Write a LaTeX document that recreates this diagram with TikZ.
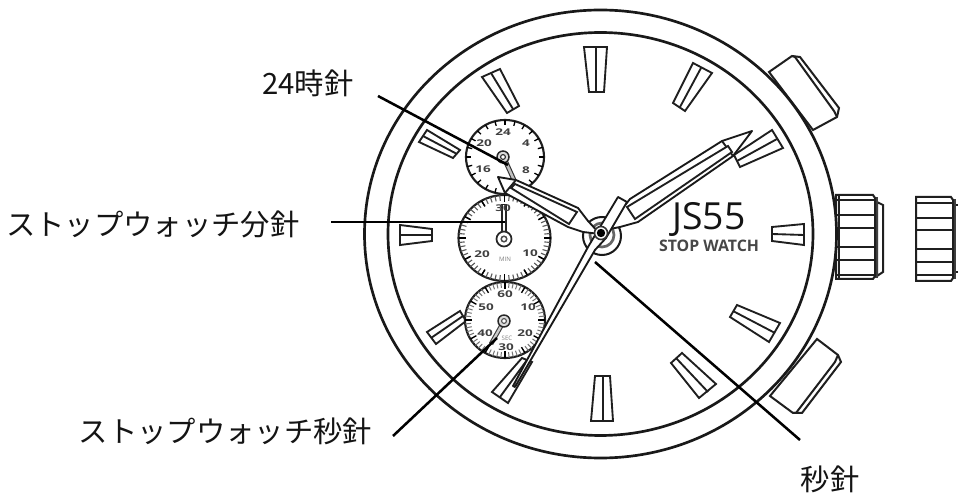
\documentclass[tikz,border=0pt]{standalone}
\usepackage{fontspec}
\setmainfont{Open Sans}
\newfontfamily\jpfont{Noto Sans CJK JP}
\newfontfamily\dialfont{Open Sans}
\newcommand{\dialticks}[7]{% cx cy rx ry count length width(px)
  \pgfmathsetmacro{\stepang}{360/#5}
  \foreach \k in {1,...,#5}{
    \pgfmathsetmacro{\ang}{\k*\stepang}
    \pgfmathsetmacro{\fr}{1-#6/#3}
    \draw[line width=#7*0.75pt]
      ({#1+#3*cos(\ang)},{#2+#4*sin(\ang)}) -- ({#1+#3*\fr*cos(\ang)},{#2+#4*\fr*sin(\ang)});
  }}
\newcommand{\hourmark}[6]{% a b c d m1 m2
  \draw[markline,fill=white] #1 -- #2 -- #3 -- #4 -- cycle;
  \draw[markline] #5 -- #6;}
\tikzset{
  x=0.75pt,y=-0.75pt,
  caseline/.style={line width=2pt,draw=black!90},
  markline/.style={line width=1.4pt,draw=black!88,line join=miter},
  crownline/.style={line width=1.5pt,draw=black!88},
  handline/.style={line width=1.4pt,draw=black!90,fill=white,line join=round},
  subring/.style={line width=1.6pt,draw=black!88},
  leader/.style={line width=1.9pt,draw=black},
  label/.style={font=\jpfont\fontsize{22pt}{24pt}\selectfont,inner sep=0pt,text=black!92},
  dialnum/.style={font=\dialfont\bfseries\fontsize{7pt}{8pt}\selectfont,inner sep=0pt,text=black!75,xscale=1.45},
  dialsmall/.style={font=\dialfont\fontsize{4.6pt}{5pt}\selectfont,inner sep=0pt,text=black!50},
}
\begin{document}
\begin{tikzpicture}
\useasboundingbox (0,0) rectangle (958,495);
\fill[white] (0,0) rectangle (958,495);

% pushers
\draw[crownline,fill=white] (769,72) -- (792,56) -- (800,57) -- (839,108) -- (837,117) -- (813,130) -- cycle;
\draw[crownline] (792,56) -- (795,57) -- (834,111) -- (837,117);
\draw[crownline,fill=white] (770,396) -- (793,413) -- (802,413) -- (841,362) -- (838,355) -- (817,339) -- cycle;
\draw[crownline] (793,413) -- (796,413) -- (835,362) -- (838,355);

% crown 1
\draw[crownline,fill=white] (877,202) -- (883,205) -- (883,272) -- (877,276) -- cycle;
\fill[black!75] (874,197) rectangle (878,278);
\draw[crownline,fill=white] (836,195) -- (873,195) -- (875,198) -- (875,276) -- (873,279) -- (836,279) -- cycle;
\draw[crownline] (839,195) -- (839,279);
\foreach \yy in {200,215,228,247,260,275}{\draw[crownline] (836,\yy) -- (875,\yy);}
% crown 2
\fill[black!75] (952,199) rectangle (956,279);
\draw[crownline] (956,205) -- (958,205);
\draw[crownline] (956,272) -- (958,272);
\draw[crownline,fill=white] (916,197) -- (951,197) -- (953,200) -- (953,278) -- (951,281) -- (916,281) -- cycle;
\foreach \yy in {203,218,230,249,262,275}{\draw[crownline] (916,\yy) -- (953,\yy);}

% case
\draw[caseline,fill=white] (600.5,234) ellipse [x radius=236,y radius=224];
\draw[caseline] (600.5,234) ellipse [x radius=212.5,y radius=201.5];

% hour markers
\hourmark{(584,47)}{(607,47)}{(604,92)}{(589,92)}{(596,47)}{(596,92)}
\hourmark{(693,63)}{(712,73)}{(685,111)}{(673,103)}{(701,68)}{(680,107)}
\hourmark{(772,130)}{(783,148)}{(740,167)}{(734,155)}{(777,139)}{(737,161)}
\hourmark{(804,224)}{(804,245)}{(772,241)}{(772,227)}{(804,235)}{(772,234)}
\hourmark{(737,305)}{(780,323)}{(769,342)}{(730,317)}{(733,311)}{(775,333)}
\hourmark{(682,353)}{(716,384)}{(699,398)}{(671,363)}{(676,358)}{(708,392)}
\hourmark{(595,376)}{(610,376)}{(613,421)}{(591,421)}{(603,376)}{(603,421)}
\hourmark{(522,358)}{(532,362)}{(508,403)}{(492,392)}{(527,360)}{(500,397)}
\hourmark{(460,311)}{(466,321)}{(436,344)}{(427,332)}{(463,316)}{(431,338)}
\hourmark{(400,225)}{(432,229)}{(432,241)}{(400,245)}{(400,235)}{(432,235)}
\hourmark{(427,130)}{(460,150)}{(453,158)}{(419,142)}{(423,136)}{(457,154)}
\hourmark{(482,77)}{(500,69)}{(519,106)}{(507,113)}{(491,73)}{(513,109)}

% sub dial 24h
\draw[subring,fill=white] (505,157) ellipse [x radius=39,y radius=37];
\dialticks{505}{157}{39}{37}{24}{5}{1.3}
\node[dialnum] (n24) at (503,132) {24};
\node[dialnum] (n4) at (526,143) {4};
\node[dialnum] (n8) at (526,170) {8};
\node[dialnum] (n16) at (483,169) {16};
\node[dialnum] (n20) at (484,143) {20};
\draw[line width=3.6pt,draw=black!80] (504,158) -- (514,180);
\draw[line width=1.9pt,draw=black!25] (504,158) -- (514,180);
\draw[line width=1.1pt,draw=black!85,fill=black!15] (503,157) circle [x radius=6,y radius=6];
\draw[line width=0.8pt,draw=black!85,fill=white] (503,157) circle [x radius=2.4,y radius=2.4];

% sub dial minutes
\draw[subring,fill=white] (504.5,238) ellipse [x radius=46,y radius=43];
\begin{scope}[black!65]
\dialticks{504.5}{238}{46}{43}{60}{6}{1.1}
\end{scope}
\dialticks{504.5}{238}{46}{43}{12}{7}{1.5}
\node[dialnum] (n20m) at (482,254) {20};
\node[dialnum] (n10m) at (530,253) {10};
\node[dialsmall] (nmin) at (505,259) {MIN};
\draw[line width=3.9pt,draw=black!85] (504,238) -- (504,204);
\draw[line width=2.1pt,draw=white] (504,238) -- (504,205);
\node[dialnum] (n30m) at (503,208) {30};
\draw[line width=1.3pt,draw=black!85,fill=white] (504,239) circle [x radius=7.5,y radius=7.5];
\draw[line width=1.1pt,draw=black!70,fill=white] (504,239) circle [x radius=2.8,y radius=2.8];

% sub dial seconds
\draw[subring,fill=white] (505,320) ellipse [x radius=40,y radius=38];
\begin{scope}[black!55]
\dialticks{505}{320}{40}{38}{60}{6}{1.0}
\end{scope}
\dialticks{505}{320}{40}{38}{12}{7}{1.3}
\node[dialnum] (n60) at (505,294) {60};
\node[dialnum] (n50) at (486,307) {50};
\node[dialnum] (n10s) at (528,307) {10};
\node[dialnum] (n40) at (485,333) {40};
\node[dialnum] (n20s) at (525,333) {20};
\node[dialnum] (n30s) at (506,347) {30};
\node[dialsmall] (nsec) at (507,338) {SEC};
\draw[line width=3.4pt,draw=black!75] (504,321) -- (491,344);
\draw[line width=1.7pt,draw=black!20] (504,321) -- (491,344);
\draw[line width=1.1pt,draw=black!85,fill=black!15] (504,321) circle [x radius=6,y radius=6];
\draw[line width=0.8pt,draw=black!70,fill=white] (504,321) circle [x radius=2.4,y radius=2.4];

% brand text
\node[font=\fontsize{28pt}{30pt}\selectfont,inner sep=0pt,text=black!92] (brand) at (709,219.5) {JS55};
\node[font=\bfseries\fontsize{11.9pt}{13pt}\selectfont,inner sep=0pt,text=black!72] (sw) at (709,246) {STOP WATCH};

% hub rings
\draw[line width=1.5pt,draw=black!90,fill=white] (602,236) circle [x radius=19,y radius=19];
\draw[line width=2pt,draw=black!60,fill=white] (602,235) circle [x radius=12,y radius=12];

% hour hand
\draw[handline] (498,177) -- (516,180) -- (578,208) -- (588,221) -- (600,234) -- (583,232) -- (568,227) -- (505,193) -- cycle;
\draw[markline] (516,180) -- (505,193);
\draw[markline,fill=white] (515,184) -- (577,212) -- (569,224) -- (511,188) -- cycle;

% minute hand
\draw[handline] (752,131) -- (722,141) -- (630,199) -- (605,230) -- (620,227) -- (638,222) -- (733,156) -- cycle;
\draw[markline] (722,141) -- (733,156);
\draw[markline,fill=white] (728,146) -- (732,152) -- (635,219) -- (627,207) -- cycle;

% second hand
\draw[handline] (618,197) -- (627,202) -- (606,238) -- (595,250) -- (515,387) -- (513,386) -- (588,247) -- (597,232) -- cycle;

% centre dot
\draw[line width=1.2pt,draw=black!80,fill=white] (601,233) circle [x radius=6.5,y radius=6.5];
\fill[black] (601,233) circle [x radius=4.2,y radius=4.2];

% labels
\node[label] (lab24) at (308,83) {24時針};
\node[label] (labmin) at (153,224) {ストップウォッチ分針};
\node[label] (labsec) at (225.5,431) {ストップウォッチ秒針};
\node[label] (labs) at (830,479) {秒針};

% leaders
\coordinate (a1) at (378,96);  \coordinate (b1) at (508,165);
\coordinate (a2) at (331,222); \coordinate (b2) at (505,222);
\coordinate (a3) at (393,436); \coordinate (b3) at (497,338);
\coordinate (a4) at (800,440); \coordinate (b4) at (595,262);
\draw[leader] (a1) -- (b1);
\draw[leader] (a2) -- (b2);
\draw[leader] (a3) -- (b3);
\draw[leader] (a4) -- (b4);
\end{tikzpicture}
\end{document}
